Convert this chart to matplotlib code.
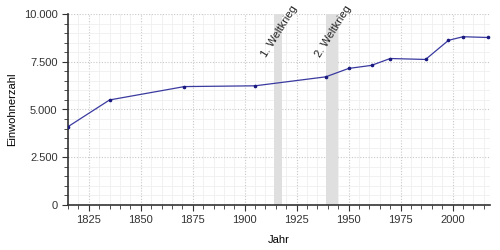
import numpy as np
import matplotlib.pyplot as plt
from matplotlib.ticker import FuncFormatter, MultipleLocator

plt.rcParams['font.family'] = ['Liberation Sans', 'DejaVu Sans']

# Einwohnerzahl nach Jahr
jahre = [1815, 1835, 1871, 1905, 1939, 1950, 1961, 1970, 1987, 1998, 2005, 2017]
einwohner = [4100, 5500, 6200, 6240, 6710, 7150, 7310, 7670, 7620, 8620, 8810, 8770]

kriege = [(1914, 1918, '1. Weltkrieg'), (1939, 1945, '2. Weltkrieg')]

fig = plt.figure(figsize=(5, 2.5), dpi=100)
ax = fig.add_axes([0.136, 0.18, 0.844, 0.764])

for start, ende, name in kriege:
    ax.axvspan(start, ende, color='#dfdfdf', lw=0, zorder=1)
    ax.text((start + ende) / 2 + 0.5, 9100, name, rotation=58, rotation_mode='anchor',
            ha='center', va='center', fontsize=8, color='#222222')

ax.plot(jahre, einwohner, color='#3a3aa0', lw=0.9, marker='o', ms=1.6,
        mfc='#1a1a80', mec='#1a1a80', zorder=3)

ax.set_xlim(1815, 2018)
ax.set_ylim(0, 10000)
ax.xaxis.set_major_locator(MultipleLocator(25))
ax.xaxis.set_minor_locator(MultipleLocator(5))
ax.yaxis.set_major_locator(MultipleLocator(2500))
ax.yaxis.set_minor_locator(MultipleLocator(500))
ax.yaxis.set_major_formatter(FuncFormatter(lambda v, p: f'{int(v):,}'.replace(',', '.')))

ax.grid(which='major', color='#c8c8c8', ls=(0, (1, 1.5)), lw=0.8, zorder=0)
ax.grid(which='minor', color='#efefef', ls='-', lw=0.6, zorder=0)
ax.set_axisbelow(True)

for s in ['top', 'right']:
    ax.spines[s].set_visible(False)
for s in ['left', 'bottom']:
    ax.spines[s].set_color('#333333')
    ax.spines[s].set_linewidth(1.2)

ax.tick_params(which='both', labelsize=8, colors='#333333', direction='out')
ax.tick_params(which='major', length=4)
ax.tick_params(which='minor', length=3)

ax.set_xlabel('Jahr', fontsize=8, labelpad=7)
ax.set_ylabel('Einwohnerzahl', fontsize=8, labelpad=5)

fig.savefig('out.png', dpi=100)
